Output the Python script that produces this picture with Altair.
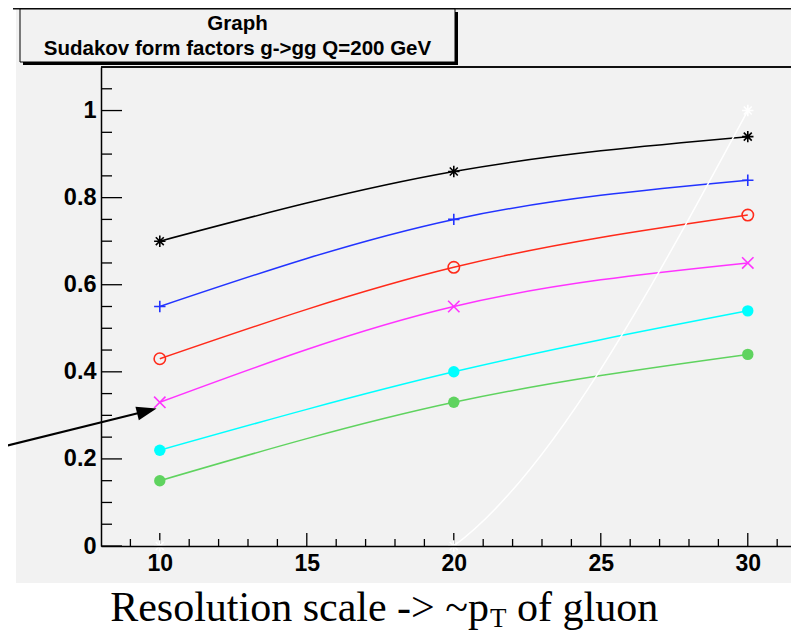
import altair as alt
import pandas as pd

# ---------------- data ----------------
x_vals = [10, 20, 30]
series_names = ["black", "blue", "red", "magenta", "cyan", "green", "white"]
black_vals = [0.70, 0.86, 0.94]
blue_vals = [0.55, 0.75, 0.84]
red_vals = [0.43, 0.64, 0.76]
magenta_vals = [0.33, 0.55, 0.65]
cyan_vals = [0.22, 0.40, 0.54]
green_vals = [0.15, 0.33, 0.44]
white_vals = [0.0, 0.0, 1.0]
series_colors = ["#000000", "#2233ff", "#ff2a1a", "#ff33ff", "#00ffff", "#5fd35f", "#ffffff"]

x_major_ticks = [10, 15, 20, 25, 30]
x_minor_ticks = [9, 11, 12, 13, 14, 16, 17, 18, 19, 21, 22, 23, 24, 26, 27, 28, 29, 31]
y_major_ticks = [0, 0.2, 0.4, 0.6, 0.8, 1.0]
y_minor_ticks = [0.05, 0.1, 0.15, 0.25, 0.3, 0.35, 0.45, 0.5, 0.55, 0.65,
                 0.7, 0.75, 0.85, 0.9, 0.95, 1.05]

title_lines = ["Graph", "Sudakov form factors g->gg Q=200 GeV"]
x_title_parts = ["Resolution scale -> ~p", "T", "of gluon"]

arrow_x = [4.83, 9.56]
arrow_y = [0.231, 0.31]

# ---------------- layout ----------------
PW, PH = 690, 479
X_DOMAIN = [8, 31.47]
Y_DOMAIN = [0, 1.1]

ASTER = "M-1,0L1,0M0,-1L0,1M-0.7,-0.7L0.7,0.7M-0.7,0.7L0.7,-0.7"
PLUS = "M-1,0L1,0M0,-1L0,1"
XMARK = "M-1,-1L1,1M-1,1L1,-1"
series_shapes = [ASTER, PLUS, "circle", XMARK, "circle", "circle", ASTER]

all_vals = [black_vals, blue_vals, red_vals, magenta_vals, cyan_vals, green_vals, white_vals]
rows = []
for name, vals in zip(series_names, all_vals):
    for xv, yv in zip(x_vals, vals):
        rows.append({"series": name, "x": xv, "y": yv})
df = pd.DataFrame(rows)

xaxis = alt.Axis(values=x_major_ticks, ticks=False, tickSize=0, grid=False, title=None,
                 labelFont="Liberation Sans", labelFontWeight="bold", labelFontSize=23,
                 labelColor="black", labelPadding=6, labelFlush=False,
                 domainColor="black", domainWidth=1.5, zindex=1)
yaxis = alt.Axis(values=y_major_ticks, format="~g", ticks=False, tickSize=0, grid=False, title=None,
                 labelFont="Liberation Sans", labelFontWeight="bold", labelFontSize=23.5,
                 labelColor="black", labelPadding=5, labelFlush=False, labelOverlap=False,
                 domainColor="black", domainWidth=1.5, zindex=1)
xs = alt.Scale(domain=X_DOMAIN, nice=False, zero=False)
ys = alt.Scale(domain=Y_DOMAIN, nice=False, zero=False)


def X(field="x"):
    return alt.X(f"{field}:Q", scale=xs, axis=xaxis)


def Y(field="y"):
    return alt.Y(f"{field}:Q", scale=ys, axis=yaxis)


color = alt.Color("series:N", scale=alt.Scale(domain=series_names, range=series_colors), legend=None)
shape = alt.Shape("series:N", scale=alt.Scale(domain=series_names, range=series_shapes), legend=None)

one = pd.DataFrame({"k": [0]})

gray_panel = alt.Chart(one).mark_rect(color="#f2f2f2").encode(
    x=alt.value(-85), x2=alt.value(PW), y=alt.value(-57.5), y2=alt.value(516))
page_line = alt.Chart(one).mark_rule(color="#111111", strokeWidth=1.5).encode(
    x=alt.value(-88), x2=alt.value(PW), y=alt.value(-58.2))
frame_top = alt.Chart(one).mark_rule(color="#111111", strokeWidth=2).encode(
    x=alt.value(0), x2=alt.value(PW), y=alt.value(0))
title_shadow = alt.Chart(one).mark_rect(color="#000000").encode(
    x=alt.value(-78), x2=alt.value(357), y=alt.value(-55), y2=alt.value(-2))
title_box = alt.Chart(one).mark_rect(fill="#f2f2f2", stroke="#000000", strokeWidth=1).encode(
    x=alt.value(-81), x2=alt.value(354), y=alt.value(-58), y2=alt.value(-5))
title1 = alt.Chart(one).mark_text(font="Liberation Sans", fontWeight="bold", fontSize=20.5,
                                  align="center", baseline="alphabetic", color="black").encode(
    x=alt.value(136.5), y=alt.value(-37), text=alt.value(title_lines[0]))
title2 = alt.Chart(one).mark_text(font="Liberation Sans", fontWeight="bold", fontSize=20.5,
                                  align="center", baseline="alphabetic", color="black").encode(
    x=alt.value(136.5), y=alt.value(-12), text=alt.value(title_lines[1]))

ymaj = alt.Chart(pd.DataFrame({"y": y_major_ticks})).mark_rule(color="black", strokeWidth=1.3).encode(
    y=Y(), x=alt.value(0), x2=alt.value(21))
ymin = alt.Chart(pd.DataFrame({"y": y_minor_ticks})).mark_rule(color="black", strokeWidth=1.3).encode(
    y=Y(), x=alt.value(0), x2=alt.value(11))
xmaj = alt.Chart(pd.DataFrame({"x": x_major_ticks})).mark_rule(color="black", strokeWidth=1.3).encode(
    x=X(), y=alt.value(PH), y2=alt.value(PH - 13))
xmin = alt.Chart(pd.DataFrame({"x": x_minor_ticks})).mark_rule(color="black", strokeWidth=1.3).encode(
    x=X(), y=alt.value(PH), y2=alt.value(PH - 7))

lines = alt.Chart(df).mark_line(interpolate="natural", strokeWidth=1.5, clip=True).encode(
    x=X(), y=Y(), color=color, detail="series:N")

stroked = alt.Chart(df).transform_filter(
    alt.FieldOneOfPredicate(field="series", oneOf=["black", "blue", "red", "magenta", "white"])
).mark_point(filled=False, size=130, strokeWidth=1.6, opacity=1).encode(
    x=X(), y=Y(), color=color, shape=shape)
filled = alt.Chart(df).transform_filter(
    alt.FieldOneOfPredicate(field="series", oneOf=["cyan", "green"])
).mark_point(filled=True, size=130, opacity=1).encode(
    x=X(), y=Y(), color=color, shape=shape)

arrow_df = pd.DataFrame({"x": arrow_x, "y": arrow_y})
arrow_line = alt.Chart(arrow_df).mark_line(color="black", strokeWidth=2).encode(x=X(), y=Y())
arrow_head = alt.Chart(arrow_df.tail(1)).mark_point(
    shape="M1,0L-1,-0.7L-1,0.7Z", filled=True, size=400, angle=346, color="black", opacity=1
).encode(x=X(), y=Y())

xt1 = alt.Chart(one).mark_text(font="Liberation Serif", fontSize=42, align="right",
                               baseline="alphabetic", color="black").encode(
    x=alt.value(388), y=alt.value(554), text=alt.value(x_title_parts[0]))
xt2 = alt.Chart(one).mark_text(font="Liberation Serif", fontSize=27, align="left",
                               baseline="alphabetic", color="black").encode(
    x=alt.value(389), y=alt.value(560), text=alt.value(x_title_parts[1]))
xt3 = alt.Chart(one).mark_text(font="Liberation Serif", fontSize=42, align="left",
                               baseline="alphabetic", color="black").encode(
    x=alt.value(416), y=alt.value(554), text=alt.value(x_title_parts[2]))

chart = alt.layer(
    gray_panel, page_line, frame_top, title_shadow, title_box, title1, title2,
    ymaj, ymin, xmaj, xmin, lines, stroked, filled, arrow_line, arrow_head, xt1, xt2, xt3
).properties(
    width=PW, height=PH,
    padding={"left": 93, "top": 59, "right": 0, "bottom": 87},
    autosize=alt.AutoSizeParams(type="none"),
    background="white",
).configure_view(stroke=None)

chart.save("out.html", embed_options={"renderer": "svg", "actions": False})
